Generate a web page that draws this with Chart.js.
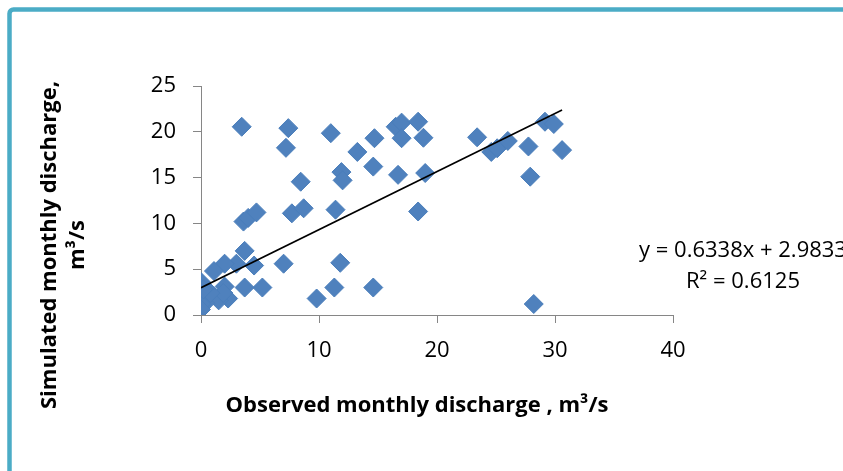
<!DOCTYPE html>
<html>
<head>
<meta charset="utf-8">
<title>Observed vs simulated monthly discharge</title>
<script src="https://cdn.jsdelivr.net/npm/chart.js@4.4.1/dist/chart.umd.min.js"></script>
<style>
    html, body { margin: 0; padding: 0; background: #ffffff; }
    #contenedor { width: 843px; height: 471px; }
</style>
</head>
<body>
<div id="contenedor"><canvas id="graficoDescarga" width="843" height="471"></canvas></div>
<script>
// caudales mensuales, m3/s
var observado = [3.45, 7.4, 7.2, 11.0, 13.25, 14.7, 16.5, 17.0, 17.0, 18.4, 18.85, 14.6, 16.7, 19.0, 11.9, 12.0, 8.45,
    3.6, 4.0, 4.7, 7.7, 8.7, 11.4, 18.4, 3.7, 3.0, 7.0, 11.8, 14.6, 11.3, 9.8, 5.2, 3.7, 4.5, 2.0, 1.1, 2.3, 1.5, 2.0, 1.9,
    0.0, 0.0, 0.05, 0.0, 0.35, 0.8, 0.0, 0.2, 0.0, 23.4, 24.6, 25.1, 26.0, 27.75, 27.9, 29.15, 29.9, 30.6, 28.2];
var simulado = [20.55, 20.4, 18.25, 19.85, 17.8, 19.3, 20.55, 21.0, 19.3, 21.1, 19.35, 16.2, 15.3, 15.5, 15.6, 14.7, 14.55,
    10.2, 10.6, 11.2, 11.1, 11.65, 11.5, 11.3, 7.0, 5.6, 5.6, 5.7, 3.0, 3.0, 1.8, 3.0, 3.0, 5.4, 5.6, 4.8, 1.8, 1.6, 3.1, 2.4,
    3.6, 2.2, 1.6, 0.9, 1.3, 2.4, 1.2, 2.8, 0.6, 19.4, 17.8, 18.2, 19.0, 18.4, 15.1, 21.1, 20.85, 18.0, 1.2];

// ejes
var ticksX = [0, 10, 20, 30, 40];
var ticksY = [0, 5, 10, 15, 20, 25];

// linea de tendencia
var pendiente = 0.6338;
var intercepto = 2.9833;
var textoEcuacion = ['y = 0.6338x + 2.9833', 'R\u00B2 = 0.6125'];

var tituloX = 'Observed monthly discharge , m\u00B3/s';
var tituloY = ['Simulated monthly discharge,', 'm\u00B3/s'];

var fuente = '"Open Sans", Lato, sans-serif';

document.addEventListener('DOMContentLoaded', function() {
    dibujarGrafico();
});

function dibujarGrafico() {
    var puntos = [];
    var xMax = 0;
    for (var i = 0; i < observado.length; i++) {
        puntos.push({ x: observado[i], y: simulado[i] });
        if (observado[i] > xMax) xMax = observado[i];
    }

    var tendencia = [
        { x: 0, y: intercepto },
        { x: xMax, y: pendiente * xMax + intercepto }
    ];

    // marco y textos
    var marco = {
        id: 'marco',
        beforeDraw: function(chart) {
            var ctx = chart.ctx;
            ctx.save();
            ctx.fillStyle = '#ffffff';
            ctx.fillRect(0, 0, chart.width, chart.height);
            ctx.strokeStyle = '#4BACC6';
            ctx.lineWidth = 4.5;
            ctx.beginPath();
            if (ctx.roundRect) {
                ctx.roundRect(9.5, 9.5, chart.width + 20, chart.height + 20, 4);
            } else {
                ctx.rect(9.5, 9.5, chart.width + 20, chart.height + 20);
            }
            ctx.stroke();
            ctx.restore();
        },
        afterDraw: function(chart) {
            var ctx = chart.ctx;
            ctx.save();
            ctx.fillStyle = '#000000';
            ctx.textAlign = 'center';
            ctx.textBaseline = 'alphabetic';

            ctx.font = 'bold 22px ' + fuente;
            ctx.fillText(tituloX, 417, 412);

            ctx.save();
            ctx.translate(0, 245);
            ctx.rotate(-Math.PI / 2);
            ctx.fillText(tituloY[0], 0, 56);
            ctx.fillText(tituloY[1], 0, 84);
            ctx.restore();

            ctx.font = '22px ' + fuente;
            ctx.fillText(textoEcuacion[0], 743, 257);
            ctx.fillText(textoEcuacion[1], 743, 288);
            ctx.restore();
        }
    };

    new Chart(document.getElementById('graficoDescarga'), {
        type: 'scatter',
        data: {
            datasets: [{
                label: 'Simulado',
                data: puntos,
                pointStyle: 'rectRot',
                pointRadius: 9.5,
                pointHoverRadius: 9.5,
                backgroundColor: '#4F81BD',
                borderColor: '#4A7EBB',
                borderWidth: 1,
                order: 1
            }, {
                type: 'line',
                label: 'Tendencia',
                data: tendencia,
                borderColor: '#000000',
                borderWidth: 1.6,
                pointRadius: 0,
                fill: false,
                order: 0
            }]
        },
        options: {
            responsive: false,
            animation: false,
            layout: { padding: { left: 0, top: 86, right: 170, bottom: 0 } },
            plugins: {
                legend: { display: false },
                tooltip: { enabled: false }
            },
            scales: {
                x: {
                    type: 'linear',
                    min: ticksX[0],
                    max: ticksX[ticksX.length - 1],
                    afterBuildTicks: function(scale) {
                        scale.ticks = ticksX.map(function(v) { return { value: v }; });
                    },
                    afterFit: function(scale) { scale.height = 156; },
                    border: { color: '#868686', width: 1 },
                    grid: { drawOnChartArea: false, color: '#868686', tickLength: 8 },
                    ticks: { color: '#000000', padding: 15, font: { family: fuente, size: 22 } }
                },
                y: {
                    type: 'linear',
                    min: ticksY[0],
                    max: ticksY[ticksY.length - 1],
                    afterBuildTicks: function(scale) {
                        scale.ticks = ticksY.map(function(v) { return { value: v }; });
                    },
                    afterFit: function(scale) { scale.width = 201; },
                    border: { color: '#868686', width: 1 },
                    grid: { drawOnChartArea: false, color: '#868686', tickLength: 8 },
                    ticks: { color: '#000000', padding: 17, font: { family: fuente, size: 22 } }
                }
            }
        },
        plugins: [marco]
    });
}
</script>
</body>
</html>
